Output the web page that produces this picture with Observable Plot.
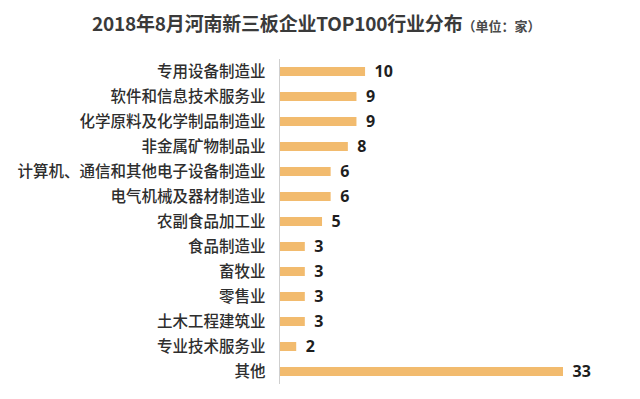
<!DOCTYPE html>
<html>
<head>
<meta charset="utf-8">
<script src="https://cdn.jsdelivr.net/npm/d3@7"></script>
<script src="https://cdn.jsdelivr.net/npm/@observablehq/plot@0.6"></script>
<style>
  html, body { margin: 0; padding: 0; background: #fff; }
  body { width: 640px; height: 399px; overflow: hidden; font-family: "Noto Sans CJK SC", "Noto Sans", sans-serif; }
  #title { height: 45px; box-sizing: border-box; padding-left: 92px; padding-top: 9px; white-space: nowrap; color: #3a3a3a; }
  #title .main { font-size: 19px; font-weight: bold; letter-spacing: -0.2px; }
  #title .unit { font-size: 13px; font-weight: bold; color: #4a4a4a; }
  #chart svg { display: block; }
</style>
</head>
<body>
<div id="title"><span class="main">2018年8月河南新三板企业TOP100行业分布</span><span class="unit">（单位：家）</span></div>
<div id="chart"></div>
<script>
const categories = ["专用设备制造业", "软件和信息技术服务业", "化学原料及化学制品制造业", "非金属矿物制品业", "计算机、通信和其他电子设备制造业", "电气机械及器材制造业", "农副食品加工业", "食品制造业", "畜牧业", "零售业", "土木工程建筑业", "专业技术服务业", "其他"];
const counts = [10, 9, 9, 8, 6, 6, 5, 3, 3, 3, 3, 2, 33];

const data = categories.map((c, i) => ({industry: c, count: counts[i]}));

const chart = Plot.plot({
  width: 640,
  height: 354,
  marginLeft: 279,
  marginRight: 77,
  marginTop: 14,
  marginBottom: 15,
  style: {fontFamily: "'Noto Sans CJK SC', sans-serif", background: "#fff"},
  x: {domain: [0, 33], axis: null},
  y: {domain: categories, paddingInner: 0.63, paddingOuter: 0.315, tickSize: 0, tickPadding: 14, label: null},
  marks: [
    Plot.barX(data, {x: "count", y: "industry", fill: "#F2BB6E"}),
    Plot.ruleX([0], {stroke: "#cfcfcf", strokeWidth: 1}),
    Plot.text(data, {x: "count", y: "industry", text: d => String(d.count), textAnchor: "start", dx: 9, fontSize: 16, fontWeight: "bold", fill: "#1e1e1e", fontFamily: "'Open Sans', sans-serif"}),
    Plot.axisY({tickSize: 0, tickPadding: 14, fontSize: 15.5, fontWeight: 500, fill: "#2e2e2e", label: null})
  ]
});
document.getElementById("chart").appendChild(chart);
</script>
</body>
</html>
